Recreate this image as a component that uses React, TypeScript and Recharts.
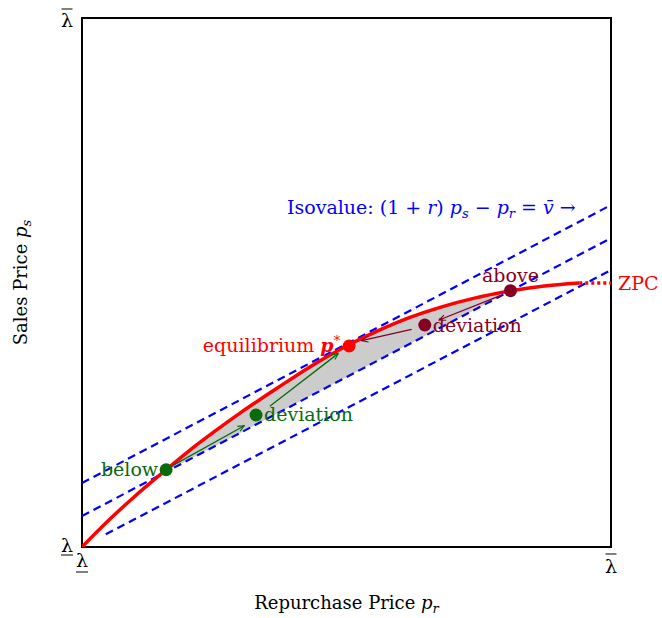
import {
  Area,
  ComposedChart,
  Label,
  Line,
  ReferenceArea,
  Scatter,
  XAxis,
  YAxis,
} from "recharts";

// zero-profit curve (solid part), then its dotted continuation
const curveX = [0, 0.05, 0.1, 0.159, 0.2, 0.25, 0.3, 0.37, 0.43, 0.5, 0.56, 0.62, 0.68, 0.74, 0.81, 0.87, 0.94];
const curveY = [0, 0.05, 0.096, 0.146, 0.18, 0.218, 0.254, 0.301, 0.34, 0.38, 0.409, 0.434, 0.454, 0.47, 0.484, 0.493, 0.499];
const tailX = [0.94, 1];
const tailY = [0.499, 0.499];

// isovalue lines (top tangent at p*, middle chord through below/above, bottom)
const isoFromX = [0, 0, 0.045];
const isoFromY = [0.121, 0.0586, 0.024];
const isoToX = [1, 1, 1];
const isoToY = [0.6465, 0.584, 0.5236];

// shaded lens between the chord and the curve
const lensX = [0.159, 0.2, 0.25, 0.3, 0.37, 0.43, 0.5, 0.56, 0.62, 0.68, 0.74, 0.81];
const lensLow = [0.143, 0.164, 0.19, 0.216, 0.253, 0.285, 0.321, 0.353, 0.384, 0.416, 0.447, 0.485];
const lensHigh = [0.146, 0.18, 0.218, 0.254, 0.301, 0.34, 0.38, 0.409, 0.434, 0.454, 0.47, 0.485];

// marked points
const pointX = [0.159, 0.329, 0.505, 0.648, 0.81];
const pointY = [0.146, 0.2495, 0.38, 0.4197, 0.4845];
const pointLabel = ["below", "deviation", "equilibrium", "deviation", "above"];
const pointGroup = ["green", "green", "red", "maroon", "maroon"];

// deviation arrows
const arrowFromX = [0.168, 0.355, 0.793, 0.623];
const arrowFromY = [0.152, 0.266, 0.476, 0.4115];
const arrowToX = [0.3068, 0.4845, 0.675, 0.5287];
const arrowToY = [0.2293, 0.366, 0.4291, 0.39];
const arrowGroup = ["green", "green", "maroon", "maroon"];

// axis ticks: the bounds λ (lower) and λ̄ (upper)
const tickValues = [0, 1];

// anchor of the isovalue caption
const captionX = [0.3875];
const captionY = [0.6295];

const FONT = "'DejaVu Serif', serif";
const RED = "#ff0000";
const BLUE = "#0000ff";
const GREEN = "#0b6a0b";
const MAROON = "#850024";

const groupColor: Record<string, string> = { green: GREEN, red: RED, maroon: MAROON };

const curveData = curveX.map((x, i) => ({ x, y: curveY[i] }));
const tailData = tailX.map((x, i) => ({ x, y: tailY[i] }));
const isoLines = isoFromX.map((x, i) => [
  { x, y: isoFromY[i] },
  { x: isoToX[i], y: isoToY[i] },
]);
const lensData = lensX.map((x, i) => ({ x, lo: lensLow[i], hi: lensHigh[i] }));
const points = pointX.map((x, i) => ({ x, y: pointY[i], label: pointLabel[i], group: pointGroup[i] }));
const arrows = arrowFromX.map((x, i) => ({
  group: arrowGroup[i],
  data: [
    { x, y: arrowFromY[i] },
    { x: arrowToX[i], y: arrowToY[i] },
  ],
}));
const captionData = captionX.map((x, i) => ({ x, y: captionY[i] }));

const placement: Record<string, { anchor: string; dx: number; dy: number }> = {
  "green-below": { anchor: "end", dx: -8, dy: 6 },
  "green-deviation": { anchor: "start", dx: 8, dy: 6 },
  "red-equilibrium": { anchor: "end", dx: -9, dy: 6 },
  "maroon-deviation": { anchor: "start", dx: 8, dy: 7 },
  "maroon-above": { anchor: "middle", dx: 0, dy: -9 },
};

function PointShape(props: any) {
  const { cx, cy, payload } = props;
  const color = groupColor[payload.group];
  const p = placement[`${payload.group}-${payload.label}`];
  return (
    <g>
      <circle cx={cx} cy={cy} r={6.5} fill={color} />
      <text
        x={cx + p.dx}
        y={cy + p.dy}
        textAnchor={p.anchor}
        fill={color}
        fontFamily={FONT}
        fontSize={19}
      >
        {payload.label === "equilibrium" ? (
          <>
            <tspan>equilibrium </tspan>
            <tspan fontStyle="italic" fontWeight="bold">p</tspan>
            <tspan fontSize={13} dy={-7}>*</tspan>
          </>
        ) : (
          payload.label
        )}
      </text>
    </g>
  );
}

function CaptionShape(props: any) {
  const { cx, cy } = props;
  return (
    <text x={cx} y={cy} fill={BLUE} fontFamily={FONT} fontSize={19}>
      <tspan>Isovalue: (1 + </tspan>
      <tspan fontStyle="italic">r</tspan>
      <tspan>) </tspan>
      <tspan fontStyle="italic">p</tspan>
      <tspan fontStyle="italic" fontSize={13} dy={4}>s</tspan>
      <tspan dy={-4}> − </tspan>
      <tspan fontStyle="italic">p</tspan>
      <tspan fontStyle="italic" fontSize={13} dy={4}>r</tspan>
      <tspan dy={-4}> = </tspan>
      <tspan fontStyle="italic">{"v\u0304"}</tspan>
      <tspan> →</tspan>
    </text>
  );
}

function XTick(props: any) {
  const { x, y, payload } = props;
  const upper = payload.value === 1;
  return (
    <g>
      {upper && <line x1={x - 5.5} x2={x + 5.5} y1={y + 7} y2={y + 7} stroke="#000" strokeWidth={1} />}
      <text x={x} y={upper ? y + 26 : y + 20} textAnchor="middle" fontFamily={FONT} fontSize={19} fill="#000">
        λ
      </text>
      {!upper && <line x1={x - 6} x2={x + 6} y1={y + 25} y2={y + 25} stroke="#000" strokeWidth={1} />}
    </g>
  );
}

function YTick(props: any) {
  const { x, y, payload } = props;
  const upper = payload.value === 1;
  const cx = x - 15;
  return (
    <g>
      {upper && <line x1={cx - 5.5} x2={cx + 5.5} y1={y - 9} y2={y - 9} stroke="#000" strokeWidth={1} />}
      <text x={cx} y={upper ? y + 9 : y + 5} textAnchor="middle" fontFamily={FONT} fontSize={19} fill="#000">
        λ
      </text>
      {!upper && <line x1={cx - 6} x2={cx + 6} y1={y + 8} y2={y + 8} stroke="#000" strokeWidth={1} />}
    </g>
  );
}

function XTitle(props: any) {
  const { viewBox } = props;
  return (
    <text x={viewBox.x + viewBox.width / 2} y={viewBox.y + 62} textAnchor="middle" fontFamily={FONT} fontSize={18} fill="#000">
      <tspan>Repurchase Price </tspan>
      <tspan fontStyle="italic">p</tspan>
      <tspan fontStyle="italic" fontSize={13} dy={4}>r</tspan>
    </text>
  );
}

function YTitle(props: any) {
  const { viewBox } = props;
  const x = 27;
  const y = viewBox.y + viewBox.height / 2;
  return (
    <text x={x} y={y} transform={`rotate(-90 ${x} ${y})`} textAnchor="middle" fontFamily={FONT} fontSize={18} fill="#000">
      <tspan>Sales Price </tspan>
      <tspan fontStyle="italic">p</tspan>
      <tspan fontStyle="italic" fontSize={13} dy={4}>s</tspan>
    </text>
  );
}

function ZpcLabel(props: any) {
  const { x, y, index } = props;
  if (index !== 1) return null;
  return (
    <text x={x + 7} y={y + 7} fill={RED} fontFamily={FONT} fontSize={19}>
      ZPC
    </text>
  );
}

function ArrowMarkers() {
  return (
    <svg width={0} height={0} style={{ position: "absolute" }}>
      <defs>
        {Object.entries(groupColor).map(([name, color]) => (
          <marker
            key={name}
            id={`arrow-${name}`}
            viewBox="0 0 10 10"
            refX={9}
            refY={5}
            markerWidth={8}
            markerHeight={8}
            markerUnits="userSpaceOnUse"
            orient="auto"
          >
            <path d="M1,1.5 L9,5 L1,8.5" fill="none" stroke={color} strokeWidth={1.4} />
          </marker>
        ))}
      </defs>
    </svg>
  );
}

export default function App() {
  return (
    <div>
      <style>{"body{margin:0;overflow:hidden;background:#fff}"}</style>
      <ArrowMarkers />
      <ComposedChart width={662} height={618} margin={{ top: 18, right: 51, bottom: 31, left: 22 }}>
        <XAxis
          dataKey="x"
          type="number"
          domain={[0, 1]}
          ticks={tickValues}
          interval={0}
          tickLine={false}
          axisLine={false}
          tickSize={0}
          tickMargin={0}
          height={40}
          tick={<XTick />}
          allowDataOverflow
        >
          <Label content={<XTitle />} />
        </XAxis>
        <YAxis
          dataKey="y"
          type="number"
          domain={[0, 1]}
          ticks={tickValues}
          interval={0}
          tickLine={false}
          axisLine={false}
          tickSize={0}
          tickMargin={0}
          width={60}
          tick={<YTick />}
          allowDataOverflow
        >
          <Label content={<YTitle />} />
        </YAxis>

        <Area
          data={lensData}
          dataKey={(d: any) => [d.lo, d.hi]}
          type="monotone"
          fill="#cccccc"
          fillOpacity={1}
          stroke="none"
          isAnimationActive={false}
        />

        {isoLines.map((data, i) => (
          <Line
            key={`iso-${i}`}
            data={data}
            dataKey="y"
            type="linear"
            stroke={BLUE}
            strokeWidth={2.2}
            strokeDasharray="8 5"
            dot={false}
            activeDot={false}
            isAnimationActive={false}
          />
        ))}

        <Line
          data={curveData}
          dataKey="y"
          type="monotone"
          stroke={RED}
          strokeWidth={3.5}
          dot={false}
          activeDot={false}
          isAnimationActive={false}
        />
        <Line
          data={tailData}
          dataKey="y"
          type="linear"
          stroke={RED}
          strokeWidth={3.5}
          strokeDasharray="3 3"
          dot={false}
          activeDot={false}
          isAnimationActive={false}
          label={<ZpcLabel />}
        />

        {arrows.map((a, i) => (
          <Line
            key={`arrow-${i}`}
            data={a.data}
            dataKey="y"
            type="linear"
            stroke={groupColor[a.group]}
            strokeWidth={1.3}
            markerEnd={`url(#arrow-${a.group})`}
            dot={false}
            activeDot={false}
            isAnimationActive={false}
          />
        ))}

        <Scatter data={points} shape={<PointShape />} isAnimationActive={false} />
        <Scatter data={captionData} shape={<CaptionShape />} isAnimationActive={false} />

        <ReferenceArea x1={0} x2={1} y1={0} y2={1} fill="none" fillOpacity={0} stroke="#000" strokeWidth={2} />
      </ComposedChart>
    </div>
  );
}
